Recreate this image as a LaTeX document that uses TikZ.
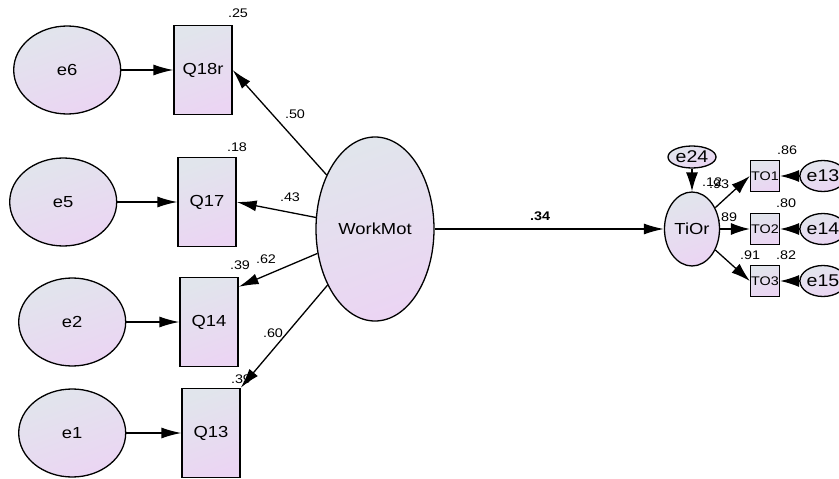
\documentclass[tikz,border=0pt]{standalone}
\usepackage{fontspec}
\setmainfont{Liberation Sans}[FakeStretch=1.15]
\usepackage{xcolor}
\usetikzlibrary{arrows.meta, positioning, shapes.geometric}

\definecolor{gtop}{RGB}{225,229,236}
\definecolor{gbot}{RGB}{235,213,243}

\begin{document}
\begin{tikzpicture}[
  x=1pt, y=-1pt,
  shaded/.style={
    draw,
    line width=1.3pt,
    top color=gtop,
    bottom color=gbot,
    shading angle=20,
    inner sep=0pt
  },
  err/.style={
    shaded,
    ellipse,
    minimum width=107pt,
    minimum height=88pt,
    font=\fontsize{16}{18}\selectfont
  },
  obs/.style={
    shaded,
    rectangle,
    minimum width=58pt,
    minimum height=89pt,
    font=\fontsize{16}{18}\selectfont
  },
  factor/.style={
    shaded,
    ellipse,
    font=\fontsize{16}{18}\selectfont
  },
  smallobs/.style={
    shaded,
    rectangle,
    minimum width=29pt,
    minimum height=31pt,
    font=\fontsize{12.5}{14}\selectfont
  },
  smallerr/.style={
    shaded,
    ellipse,
    minimum width=38pt,
    minimum height=31pt,
    font=\fontsize{17}{19}\selectfont
  },
  est/.style={inner sep=0pt, font=\fontsize{12.5}{14}\selectfont},
  arrow/.style={-{Latex[length=20pt,width=11pt]}, line width=1.3pt},
  sarrow/.style={-{Latex[length=19pt,width=12pt]}, line width=1.3pt}
]
\useasboundingbox (0,0) rectangle (839,479);

% indicators of WorkMot
\node[obs] (Q18r) at (203,70) {Q18r};
\node[obs] (Q17) at (207,202) {Q17};
\node[obs] (Q14) at (209,322) {Q14};
\node[obs] (Q13) at (211,433) {Q13};

\node[err, left=52pt of Q18r] (e6) {e6};
\node[err, left=60pt of Q17] (e5) {e5};
\node[err, left=53pt of Q14] (e2) {e2};
\node[err, left=55pt of Q13] (e1) {e1};

\node[factor, minimum width=118pt, minimum height=184pt] (WorkMot) at (375,229) {WorkMot};

% TiOr block
\node[factor, minimum width=55pt, minimum height=74pt] (TiOr) at (692,229) {TiOr};
\node[factor, minimum width=48pt, minimum height=22pt,
  font=\fontsize{17}{19}\selectfont] (e24) at (692,157) {e24};

\node[smallobs] (TO1) at (765,176) {TO1};
\node[smallobs] (TO2) at (765,229) {TO2};
\node[smallobs] (TO3) at (765,281) {TO3};

\node[smallerr] (e13) at (823,176) {e13};
\node[smallerr] (e14) at (823,229) {e14};
\node[smallerr] (e15) at (823,281) {e15};

% estimates
\node[est] (r25) at (238,13) {.25};
\node[est] (r18) at (237,147) {.18};
\node[est] (r39a) at (240,265) {.39};
\node[est] (r39b) at (241,379) {.39};
\node[est] (l50) at (295,114) {.50};
\node[est] (l43) at (290,197) {.43};
\node[est] (l62) at (266,259) {.62};
\node[est] (l60) at (273,333) {.60};
\node[est, font=\fontsize{12.5}{14}\selectfont\bfseries] (b34) at (540,216) {.34};
\node[est] (r86) at (787,150) {.86};
\node[est] (r80) at (786,203) {.80};
\node[est] (r82) at (786,255) {.82};
\node[est] (l91) at (750,255) {.91};
\node[est] (l89) at (727,217) {.89};
\node[est] (l12) at (712,182) {.12};
\node[est] (l93) at (719,184) {.93};

% paths
\draw[arrow] (e6) -- (Q18r);
\draw[arrow] (e5) -- (Q17);
\draw[arrow] (e2) -- (Q14);
\draw[arrow] (e1) -- (Q13);
\draw[arrow] (WorkMot) -- (Q18r.east);
\draw[arrow] (WorkMot) -- (Q17.east);
\draw[arrow] (WorkMot) -- ([yshift=-10pt]Q14.north east);
\draw[arrow] (WorkMot) -- (Q13.north east);
\draw[arrow] (WorkMot) -- (TiOr);
\draw[sarrow] (e24) -- (TiOr);
\draw[sarrow] (TiOr) -- (TO1.west);
\draw[sarrow] (TiOr) -- (TO2.west);
\draw[sarrow] (TiOr) -- (TO3.west);
\draw[sarrow] (e13) -- (TO1);
\draw[sarrow] (e14) -- (TO2);
\draw[sarrow] (e15) -- (TO3);

\end{tikzpicture}
\end{document}
